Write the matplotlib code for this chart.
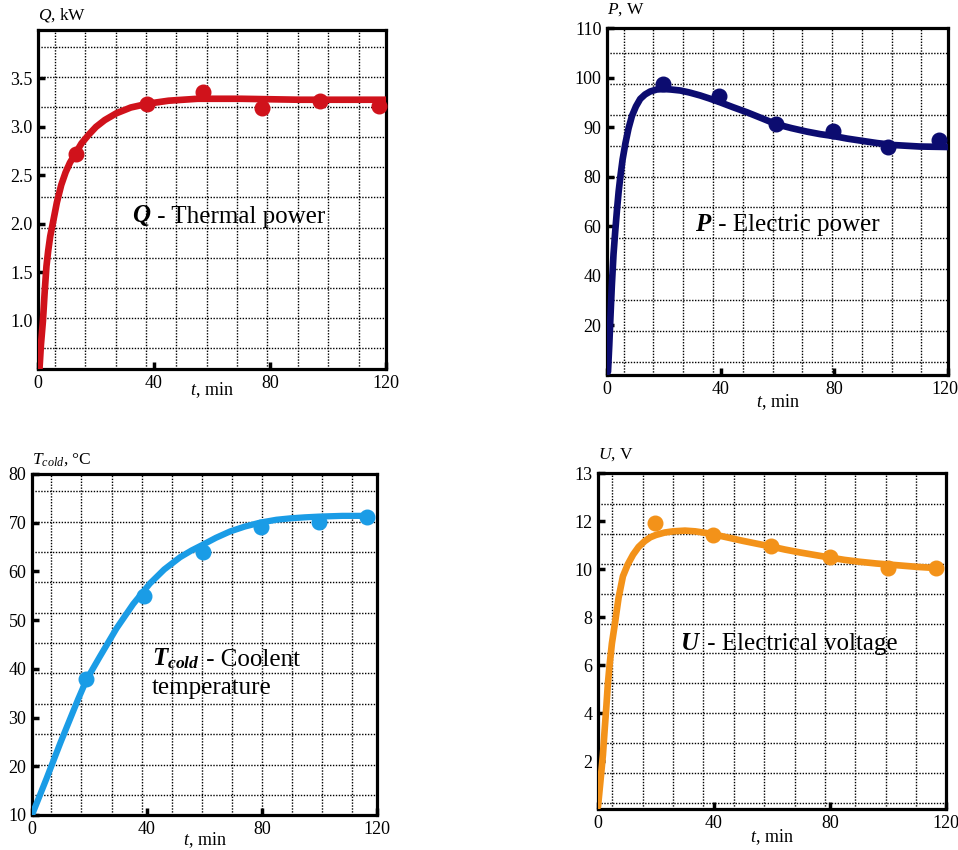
import numpy as np
import matplotlib
matplotlib.use("Agg")
from matplotlib import pyplot as plt
from matplotlib import transforms

plt.rcParams['font.family'] = ['Liberation Serif', 'DejaVu Serif']
plt.rcParams['mathtext.fontset'] = 'custom'
plt.rcParams['mathtext.rm'] = 'Liberation Serif'
plt.rcParams['mathtext.it'] = 'Liberation Serif:italic'
plt.rcParams['mathtext.bf'] = 'Liberation Serif:bold'
plt.rcParams['mathtext.bfit'] = 'Liberation Serif:italic:bold'

# ---- data ----
# Q, thermal power (kW)
q_t = [13, 37.5, 56.8, 77.2, 97.3, 117.4]
q_val = [2.72, 3.24, 3.36, 3.19, 3.27, 3.22]
q_fit_t = [0.5, 1.0, 1.7, 2.3, 2.9, 3.5, 4.2, 5.2, 6.5, 8.0, 9.5, 11, 13, 15,
           17.5, 20, 23, 27, 32, 38, 45, 55, 70, 90, 120]
q_fit = [0.5, 0.75, 1.0, 1.3, 1.56, 1.72, 1.87, 2.02, 2.22, 2.4, 2.53, 2.63,
         2.73, 2.83, 2.92, 3.0, 3.07, 3.14, 3.2, 3.24, 3.27, 3.29, 3.29, 3.28,
         3.28]

# P, electric power (W)
p_t = [19.6, 39.5, 59.6, 79.5, 98.9, 116.7]
p_val = [98.8, 96.2, 90.7, 89.2, 86.1, 87.5]
p_fit_t = [0.35, 0.8, 1.2, 1.7, 2.3, 2.9, 3.5, 4.1, 4.7, 5.5, 6.5, 7.6, 8.8,
           10.2, 11.7, 13.4, 15.2, 17.5, 19.9, 22.5, 25.8, 29, 32.8, 36, 39.9,
           44.5, 49.3, 54.5, 59.6, 65, 70.4, 75, 79.8, 84.5, 89.1, 95, 100.9,
           110, 120]
p_fit = [1.3, 12, 23, 36, 48.8, 58, 66.4, 74, 80, 83.5, 86.8, 89.8, 92.3,
         94.2, 95.7, 96.6, 97.2, 97.6, 97.7, 97.6, 97.4, 97.0, 96.4, 95.8,
         95.0, 94.0, 93.0, 91.8, 90.6, 89.8, 89.1, 88.6, 88.2, 87.7, 87.3,
         86.8, 86.4, 86.1, 86.0]

# T_cold, coolant temperature (degC)
tc_t = [18.9, 38.9, 59.5, 79.6, 99.8, 116.5]
tc_val = [37.9, 55.0, 64.0, 69.2, 70.1, 71.2]
tc_fit_t = [0, 5, 10, 16, 19, 23.6, 29.4, 35.2, 41, 46, 51.5, 55.5, 59.5,
            64, 68.9, 74, 79.3, 85, 90, 95, 100, 108, 117]
tc_fit = [10, 17.4, 25, 33.7, 37.8, 42.5, 48.3, 53.3, 57.5, 60.4, 62.9, 64.3,
          65.5, 66.9, 68.2, 69.2, 70.0, 70.6, 70.9, 71.1, 71.25, 71.4, 71.4]

# U, electrical voltage (V)
u_t = [19.8, 39.5, 59.6, 79.9, 99.9, 116.4]
u_val = [11.9, 11.41, 10.94, 10.52, 10.03, 10.04]
u_fit_t = [0, 0.8, 1.7, 2.3, 2.9, 3.4, 4.0, 4.8, 5.8, 7.1, 8.6, 10.3, 12.1,
           14, 16.1, 18, 20, 23, 25.9, 30, 33.5, 37.4, 43, 50.1, 55, 59.6,
           64.5, 69.7, 75, 79.9, 85, 90.4, 96, 102, 110, 118]
u_fit = [0.1, 1.1, 2.25, 3.3, 4.3, 5.2, 6.0, 6.9, 7.7, 8.8, 9.7, 10.2, 10.6,
         10.92, 11.16, 11.32, 11.42, 11.52, 11.57, 11.6, 11.57, 11.5, 11.36,
         11.17, 11.05, 10.94, 10.81, 10.69, 10.58, 10.48, 10.38, 10.30, 10.23,
         10.17, 10.09, 10.03]

x_ticks = [0, 40, 80, 120]


def broken(knee):
    # above knee one unit per step, below knee the scale is compressed by 2
    def fwd(y):
        y = np.asarray(y, dtype=float)
        return np.where(y >= knee, y, knee - (knee - y) / 2.0)

    def inv(z):
        z = np.asarray(z, dtype=float)
        return np.where(z >= knee, z, knee - 2.0 * (knee - z))
    return fwd, inv


def add_grid(ax, x0, y0):
    xf = x0 + 0.0873 * np.arange(11)
    yf = 1 - (y0 + 0.089 * np.arange(11))
    to_data = ax.transData.inverted()
    xs = [to_data.transform(ax.transAxes.transform((f, 0.5)))[0] for f in xf]
    ys = [to_data.transform(ax.transAxes.transform((0.5, f)))[1] for f in yf]
    ax.set_xticks(xs, minor=True)
    ax.set_yticks(ys, minor=True)
    ax.grid(which='minor', color='black', linestyle=(0, (1, 1.1)), linewidth=1.0)
    ax.tick_params(which='minor', length=0)


def panel(ax, fit_t, fit, pt_t, pt, color, ylim, yticks, ylabel, label_off,
          xlab_y, grid0, lw=4.8):
    ax.set_xlim(0, 120)
    ax.set_ylim(*ylim)
    ax.set_xticks(x_ticks)
    ax.set_yticks(yticks)
    add_grid(ax, *grid0)
    ax.set_axisbelow(True)
    ax.plot(fit_t, fit, color=color, lw=lw, solid_capstyle='round',
            solid_joinstyle='round', zorder=3)
    ax.plot(pt_t, pt, 'o', color=color, ms=10.5, zorder=4, clip_on=False)
    for s in ax.spines.values():
        s.set_linewidth(2.3)
    ax.tick_params(which='major', direction='in', length=5, width=2.5,
                   labelsize=13, pad=4, top=False, right=False)
    ax.annotate(ylabel, xy=(0, 1), xycoords='axes fraction',
                xytext=(0, label_off), textcoords='offset pixels',
                ha='left', va='center', fontsize=12.5)
    ax.set_xlabel(r'$t$, min', fontsize=13)
    ax.xaxis.set_label_coords(0.5, xlab_y)
    ax.xaxis.label.set_va('center')


fig = plt.figure(figsize=(9.58, 8.5), dpi=100)

ax1 = fig.add_axes([0.0397, 0.5659, 0.3633, 0.3988])
panel(ax1, q_fit_t, q_fit, q_t, q_val, '#d0121b', (0.5, 4.0),
      [1.0, 1.5, 2.0, 2.5, 3.0, 3.5], r'$Q$, kW', 15, -0.062, (0.048, 0.049))
ax1.set_yticklabels(['1.0', '1.5', '2.0', '2.5', '3.0', '3.5'])
t1 = ax1.text(0.27, 0.434, r'$\mathbfit{Q}$', transform=ax1.transAxes,
              fontsize=18, va='baseline', ha='left')
ax1.annotate(' - Thermal power', xy=(1, 0), xycoords=t1, fontsize=18,
             va='bottom', ha='left')

ax2 = fig.add_axes([0.6336, 0.5588, 0.3559, 0.4082])
ax2.set_yscale('function', functions=broken(80))
panel(ax2, p_fit_t, p_fit, p_t, p_val, '#0c0c70', (0, 110),
      [20, 40, 60, 80, 90, 100, 110], r'$P$, W', 18, -0.078, (0.049, 0.072))
t2 = ax2.text(0.258, 0.415, r'$\mathbfit{P}$', transform=ax2.transAxes,
              fontsize=18, va='baseline', ha='left')
ax2.annotate(' - Electric power', xy=(1, 0), xycoords=t2, fontsize=18,
             va='bottom', ha='left')
# keep the last x tick label inside the canvas
last = ax2.get_xticklabels()[-1]
last.set_transform(last.get_transform() +
                   transforms.ScaledTranslation(-3 / 100, 0, fig.dpi_scale_trans))

ax3 = fig.add_axes([0.0334, 0.0412, 0.3601, 0.4012])
panel(ax3, tc_fit_t, tc_fit, tc_t, tc_val, '#1a9ce6', (10, 80),
      [10, 20, 30, 40, 50, 60, 70, 80], r'$T_{cold}$, °C', 14, -0.073,
      (0.056, 0.051), lw=4.5)
t3 = ax3.text(0.348, 0.44, r'$\mathbfit{T_{cold}}$', transform=ax3.transAxes,
              fontsize=18, va='baseline', ha='left')
ax3.annotate(' - Coolent', xy=(1, 0), xycoords=t3, fontsize=18,
             va='bottom', ha='left')
ax3.text(0.348, 0.355, 'temperature', transform=ax3.transAxes, fontsize=18,
         va='baseline', ha='left')

ax4 = fig.add_axes([0.6242, 0.0482, 0.3633, 0.3953])
ax4.set_yscale('function', functions=broken(12))
panel(ax4, u_fit_t, u_fit, u_t, u_val, '#f39219', (0, 13),
      [2, 4, 6, 8, 10, 12, 13], r'$U$, V', 18, -0.083, (0.041, 0.092))
t4 = ax4.text(0.236, 0.473, r'$\mathbfit{U}$', transform=ax4.transAxes,
              fontsize=18, va='baseline', ha='left')
ax4.annotate(' - Electrical voltage', xy=(1, 0), xycoords=t4, fontsize=18,
             va='bottom', ha='left')

fig.savefig('out.png', dpi=100)
